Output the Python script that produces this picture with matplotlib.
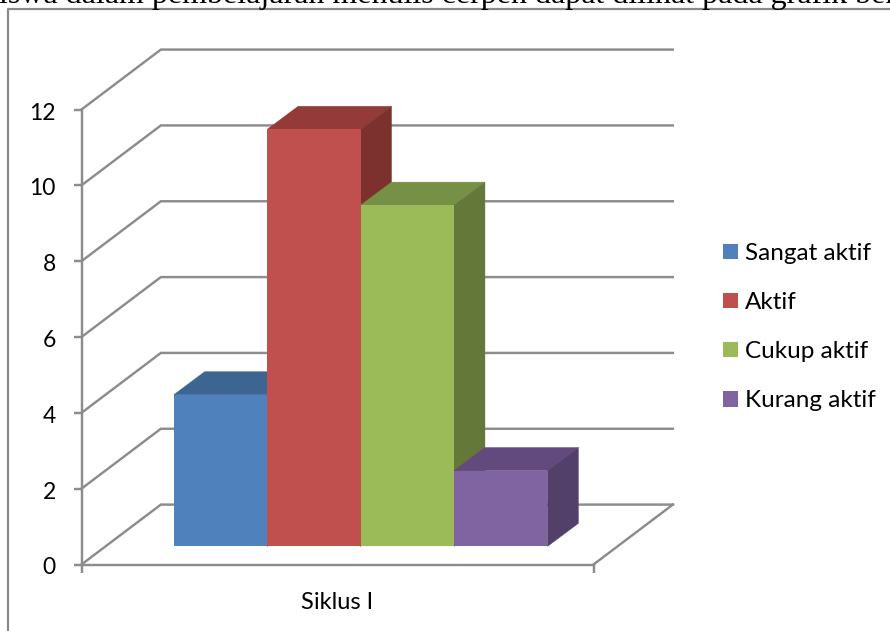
import matplotlib
matplotlib.use("Agg")
import matplotlib.pyplot as plt
from matplotlib.lines import Line2D
from matplotlib.patches import Polygon
from matplotlib.transforms import ScaledTranslation

# Chart data
category = "Siklus I"
series_names = ["Sangat aktif", "Aktif", "Cukup aktif", "Kurang aktif"]
series_values = [4, 11, 9, 2]
y_ticks = [0, 2, 4, 6, 8, 10, 12]

# Face colours of each column: front, top, side
front_colors = ["#4F81BD", "#C0504D", "#9BBB59", "#8064A2"]
top_colors = ["#3D6591", "#943B39", "#769045", "#62497E"]
side_colors = ["#34557E", "#7D312F", "#64783A", "#52406B"]

W, H = 890, 631
AXIS_LEFT, AXIS_RIGHT, AXIS_TOP, AXIS_BOTTOM = 81.5, 593.5, 109.5, 564.5
GRID_COLOR = "#8C8C8C"
LINE_W = 1.75

# Oblique projection, in data units
WALL_DX, WALL_DY = 0.155, 1.58
BAR_BASE_DX, BAR_BASE_DY = 0.043, 0.475
BAR_DX, BAR_DY = 0.0605, 0.61
BAR_START, BAR_WIDTH = 0.137, 0.1825

plt.rcParams["font.family"] = ["Lato", "DejaVu Sans"]
fig = plt.figure(figsize=(W / 100, H / 100), dpi=100, facecolor="white")
ax = fig.add_axes([
    AXIS_LEFT / W,
    1 - AXIS_BOTTOM / H,
    (AXIS_RIGHT - AXIS_LEFT) / W,
    (AXIS_BOTTOM - AXIS_TOP) / H,
])
ax.set_xlim(0, 1)
ax.set_ylim(0, 12)
ax.patch.set_visible(False)

# Surrounding frame and the line of running text above it
fig.add_artist(Line2D([7.5 / W, 7.5 / W, 1], [0, 1 - 9 / H, 1 - 9 / H],
                      transform=fig.transFigure, color="#8A8A8A", lw=1.6))
fig.text(-1 / W, 1 - 3.5 / H,
         "iswa dalam pembelajaran menulis cerpen dapat dilihat pada grafik berikut",
         family="Liberation Serif", fontsize=23, color="black",
         va="baseline", ha="left")

# Axes
for name in ("top", "right"):
    ax.spines[name].set_visible(False)
for name in ("left", "bottom"):
    ax.spines[name].set_color(GRID_COLOR)
    ax.spines[name].set_linewidth(LINE_W)
ax.set_yticks(y_ticks)
ax.tick_params(axis="y", length=6, width=LINE_W, color=GRID_COLOR,
               labelsize=16.5, pad=12.5, labelcolor="black")
nudge = ScaledTranslation(0, -1.5 / 100, fig.dpi_scale_trans)
for label in ax.get_yticklabels():
    label.set_transform(label.get_transform() + nudge)
ax.set_xticks([0, 1])
ax.set_xticklabels(["", ""])
ax.tick_params(axis="x", which="major", length=6, width=LINE_W, color=GRID_COLOR)
ax.set_xticks([0.5], [category], minor=True)
ax.tick_params(axis="x", which="minor", length=0, labelsize=17, pad=19.5)

# Floor and back wall gridlines
for tick in y_ticks:
    ax.plot([0, WALL_DX, 1 + WALL_DX], [tick, tick + WALL_DY, tick + WALL_DY],
            color=GRID_COLOR, lw=LINE_W, clip_on=False, zorder=1,
            solid_joinstyle="miter")
ax.plot([1, 1 + WALL_DX], [0, WALL_DY], color=GRID_COLOR, lw=LINE_W,
        clip_on=False, zorder=1)

# Columns, painted left to right
handles = []
for i, value in enumerate(series_values):
    x0 = BAR_START + BAR_BASE_DX + i * BAR_WIDTH
    x1 = x0 + BAR_WIDTH
    y0 = BAR_BASE_DY
    y1 = y0 + value
    z = 2 + i
    top = Polygon([(x0, y1), (x1, y1), (x1 + BAR_DX, y1 + BAR_DY), (x0 + BAR_DX, y1 + BAR_DY)],
                  closed=True, facecolor=top_colors[i], edgecolor=top_colors[i],
                  lw=0.3, clip_on=False, zorder=z)
    side = Polygon([(x1, y0), (x1 + BAR_DX, y0 + BAR_DY), (x1 + BAR_DX, y1 + BAR_DY), (x1, y1)],
                   closed=True, facecolor=side_colors[i], edgecolor=side_colors[i],
                   lw=0.3, clip_on=False, zorder=z)
    ax.add_patch(top)
    ax.add_patch(side)
    bar = ax.bar(x0, value, width=BAR_WIDTH, bottom=y0, align="edge",
                 color=front_colors[i], label=series_names[i],
                 clip_on=False, zorder=z + 0.5)
    handles.append(bar)

ax.legend(handles=handles, loc="upper left",
          bbox_to_anchor=(723 / W, 1 - 243 / H), bbox_transform=fig.transFigure,
          frameon=False, fontsize=17.5, borderpad=0, borderaxespad=0,
          handlelength=0.62, handleheight=0.62, handletextpad=0.29,
          labelspacing=1.155)

fig.savefig("out.png", dpi=100, facecolor="white")
